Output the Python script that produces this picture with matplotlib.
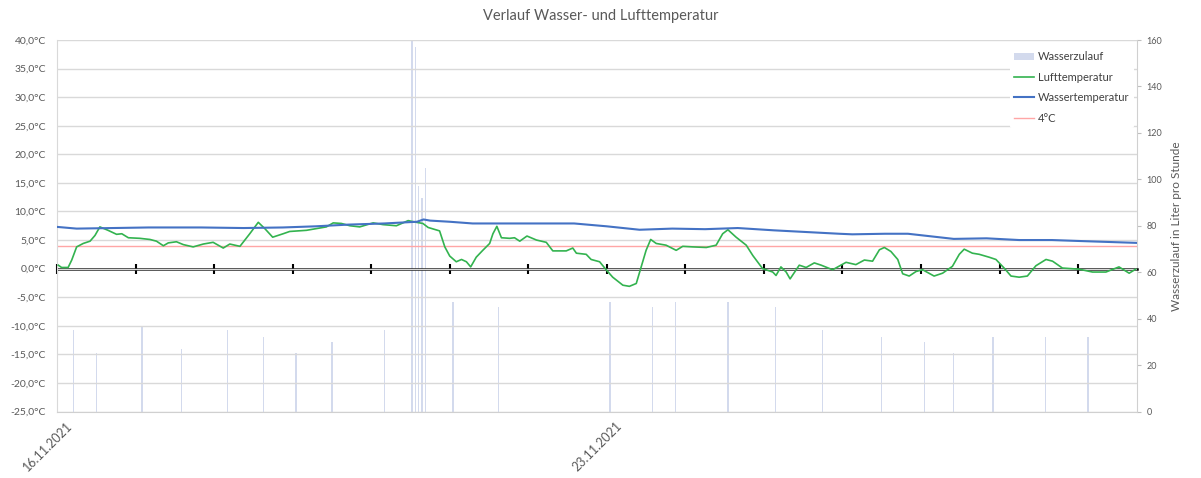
import datetime as dt
import matplotlib
matplotlib.use('Agg')
import matplotlib.pyplot as plt
import matplotlib.transforms as mtransforms
from matplotlib.ticker import FuncFormatter, MultipleLocator
import numpy as np

plt.rcParams['font.family'] = ['Lato', 'DejaVu Sans']

start = dt.date(2021, 11, 16)
x_end = 330  # hours after start

# Wasserzulauf (l/h), hours after 16.11.2021 00:00
flow_h = [5, 12, 26, 38, 52, 63, 73, 84, 100, 108.5, 109.5, 110.5, 111.5, 112.5,
          121, 135, 169, 182, 189, 205, 219.5, 234, 252, 265, 274, 286, 302, 315]
flow_v = [35, 25, 37, 27, 35, 32, 25, 30, 35, 165, 157, 97, 92, 105,
          47, 45, 47, 45, 47, 47, 45, 35, 32, 30, 25, 32, 32, 32]

# Wassertemperatur
water_h = [0, 6, 28, 44, 57, 69, 79, 89, 100, 110, 112, 114, 120, 127, 158, 168,
           178, 188, 198, 208, 219, 229, 239, 243, 253, 260, 274, 284, 294, 304, 314, 330]
water_t = [7.3, 7.0, 7.2, 7.2, 7.1, 7.2, 7.4, 7.7, 7.9, 8.2, 8.6, 8.4, 8.2, 7.9, 7.9, 7.4,
           6.8, 7.0, 6.9, 7.1, 6.7, 6.4, 6.1, 6.0, 6.1, 6.1, 5.2, 5.3, 5.0, 5.0, 4.8, 4.5]

# Lufttemperatur
air_h = [0.4, 1.4, 3.4, 4.5, 6.0, 8.0, 10.1, 11.6, 13.1, 15.6,
         18.2, 19.8, 21.8, 25.3, 28.4, 30.4, 32.5, 34.0, 36.5, 38.6,
         41.6, 44.7, 47.7, 50.8, 52.8, 55.9, 58.9, 61.5, 63.5, 65.9,
         69.1, 71.1, 76.2, 79.3, 82.3, 84.4, 86.9, 89.5, 92.5, 96.6,
         99.6, 103.7, 107.3, 109.8, 111.8, 113.4, 116.9, 118.5, 120.0, 122.0,
         123.6, 125.1, 126.4, 128.1, 130.1, 132.2, 133.2, 134.4, 135.8, 138.3,
         139.8, 141.4, 143.6, 146.5, 149.5, 151.5, 155.6, 157.6, 158.7, 161.7,
         163.2, 165.8, 167.8, 169.8, 172.9, 174.9, 177.0, 178.5, 180.0, 181.4,
         183.1, 186.1, 189.2, 191.2, 194.3, 198.4, 201.4, 203.4, 205.0, 207.5,
         210.6, 212.6, 215.6, 218.7, 219.7, 221.2, 222.8, 224.0, 226.8, 228.9,
         231.4, 233.5, 237.0, 241.1, 244.1, 246.7, 249.2, 251.3, 252.8, 254.8,
         256.9, 258.4, 260.4, 262.5, 264.5, 268.0, 270.6, 273.6, 275.7, 277.2,
         279.7, 281.8, 284.8, 286.9, 289.4, 291.5, 294.0, 296.5, 299.1, 302.2,
         304.2, 307.2, 312.3, 316.4, 320.5, 324.5, 327.6, 329.6]
air_t = [0.6, 0.2, 0.2, 1.5, 3.8, 4.4, 4.8, 5.8, 7.3, 6.7,
         6.0, 6.1, 5.4, 5.3, 5.1, 4.8, 4.0, 4.5, 4.7, 4.2,
         3.8, 4.3, 4.6, 3.6, 4.3, 3.9, 6.1, 8.1, 7.0, 5.5,
         6.1, 6.5, 6.7, 7.0, 7.3, 8.0, 7.9, 7.5, 7.3, 8.0,
         7.7, 7.5, 8.4, 8.1, 7.9, 7.2, 6.6, 3.8, 2.2, 1.2,
         1.6, 1.2, 0.3, 2.0, 3.2, 4.4, 6.1, 7.4, 5.4, 5.3,
         5.4, 4.8, 5.7, 5.0, 4.6, 3.1, 3.1, 3.6, 2.7, 2.5,
         1.6, 1.2, -0.2, -1.5, -2.9, -3.1, -2.6, 0.3, 3.2, 5.1,
         4.4, 4.1, 3.2, 3.9, 3.8, 3.7, 4.1, 6.1, 6.8, 5.5,
         4.1, 2.3, 0.0, -0.6, -1.2, 0.3, -0.6, -1.8, 0.6, 0.2,
         1.0, 0.6, -0.2, 1.1, 0.7, 1.5, 1.3, 3.3, 3.7, 3.0,
         1.6, -0.9, -1.3, -0.5, -0.2, -1.3, -0.8, 0.4, 2.5, 3.4,
         2.7, 2.5, 2.0, 1.6, 0.1, -1.3, -1.5, -1.3, 0.5, 1.6,
         1.3, 0.1, -0.1, -0.6, -0.6, 0.3, -0.8, -0.1]

limit_t = 4
date_ticks = [0, 168]
date_labels = [(start + dt.timedelta(hours=h)).strftime('%d.%m.%Y') for h in date_ticks]

grey = '#595959'

fig = plt.figure(figsize=(12.01, 4.78), dpi=100)
ax = fig.add_axes([57/1201, 1 - 411.5/478, 1080/1201, 371.5/478])
ax2 = ax.twinx()
ax.set_zorder(ax2.get_zorder() + 1)
ax.patch.set_visible(False)

ax2.bar(flow_h, flow_v, width=0.4, color='#d3daed', linewidth=0, label='Wasserzulauf')
ax.plot(air_h, air_t, color='#33b34f', lw=1.2, label='Lufttemperatur', zorder=3)
ax.plot(water_h, water_t, color='#4472c4', lw=1.5, label='Wassertemperatur', zorder=3)
ax.axhline(limit_t, color='#ffa6a6', lw=1, label='4°C', zorder=2)

ax.set_xlim(0, x_end)
ax.set_ylim(-25, 40)
ax2.set_ylim(0, 160)

ax.yaxis.set_major_locator(MultipleLocator(5))
ax.yaxis.set_major_formatter(FuncFormatter(lambda v, p: f'{v:.1f}°C'.replace('.', ',')))
ax.yaxis.grid(True, color='#d9d9d9', lw=1)
ax.set_axisbelow(True)
ax.tick_params(axis='y', length=0, pad=8, labelsize=7.5, labelcolor=grey)

ax.set_xticks(date_ticks)
ax.set_xticklabels(date_labels, rotation=45, ha='right', va='center', rotation_mode='anchor')
ax.tick_params(axis='x', length=0, pad=9, labelsize=9, labelcolor=grey)
shift = mtransforms.ScaledTranslation(13/100, 0, fig.dpi_scale_trans)
for lab in ax.get_xticklabels():
    lab.set_transform(lab.get_transform() + shift)

for s in ['top', 'right']:
    ax.spines[s].set_visible(False)
ax.spines['left'].set_color('#d9d9d9')
ax.spines['bottom'].set_color('#d0d0d0')

ax2.yaxis.set_major_locator(MultipleLocator(20))
ax2.tick_params(axis='y', length=3, color='#bfbfbf', pad=4, labelsize=6.5, labelcolor=grey)
for s in ['top', 'left', 'bottom']:
    ax2.spines[s].set_visible(False)
ax2.spines['right'].set_color('#d0d0d0')
ax2.set_ylabel('Wasserzulauf in Liter pro Stunde', fontsize=8.5, color=grey, labelpad=6)

# axis line through 0 °C with daily ticks
zero = ax.secondary_xaxis(0, transform=ax.transData)
zero.set_xticks(np.arange(0, x_end, 24))
zero.tick_params(axis='x', direction='inout', length=7, width=1.5, color='black', labelbottom=False)
zero.spines['bottom'].set_color('black')
zero.spines['bottom'].set_linewidth(1.8)

h1, l1 = ax2.get_legend_handles_labels()
h2, l2 = ax.get_legend_handles_labels()
leg = ax.legend(h1 + h2, l1 + l2, loc='upper right', bbox_to_anchor=(1.0, 0.99),
                fontsize=8, frameon=True, framealpha=1, facecolor='white', edgecolor='none',
                handlelength=1.8, handletextpad=0.3, labelspacing=0.85, borderaxespad=0.3)
for t in leg.get_texts():
    t.set_color('#404040')

fig.text(0.5, 1 - 16/478, 'Verlauf Wasser- und Lufttemperatur', ha='center', va='center',
         fontsize=10.5, color=grey)

fig.savefig('out.png', dpi=100)
